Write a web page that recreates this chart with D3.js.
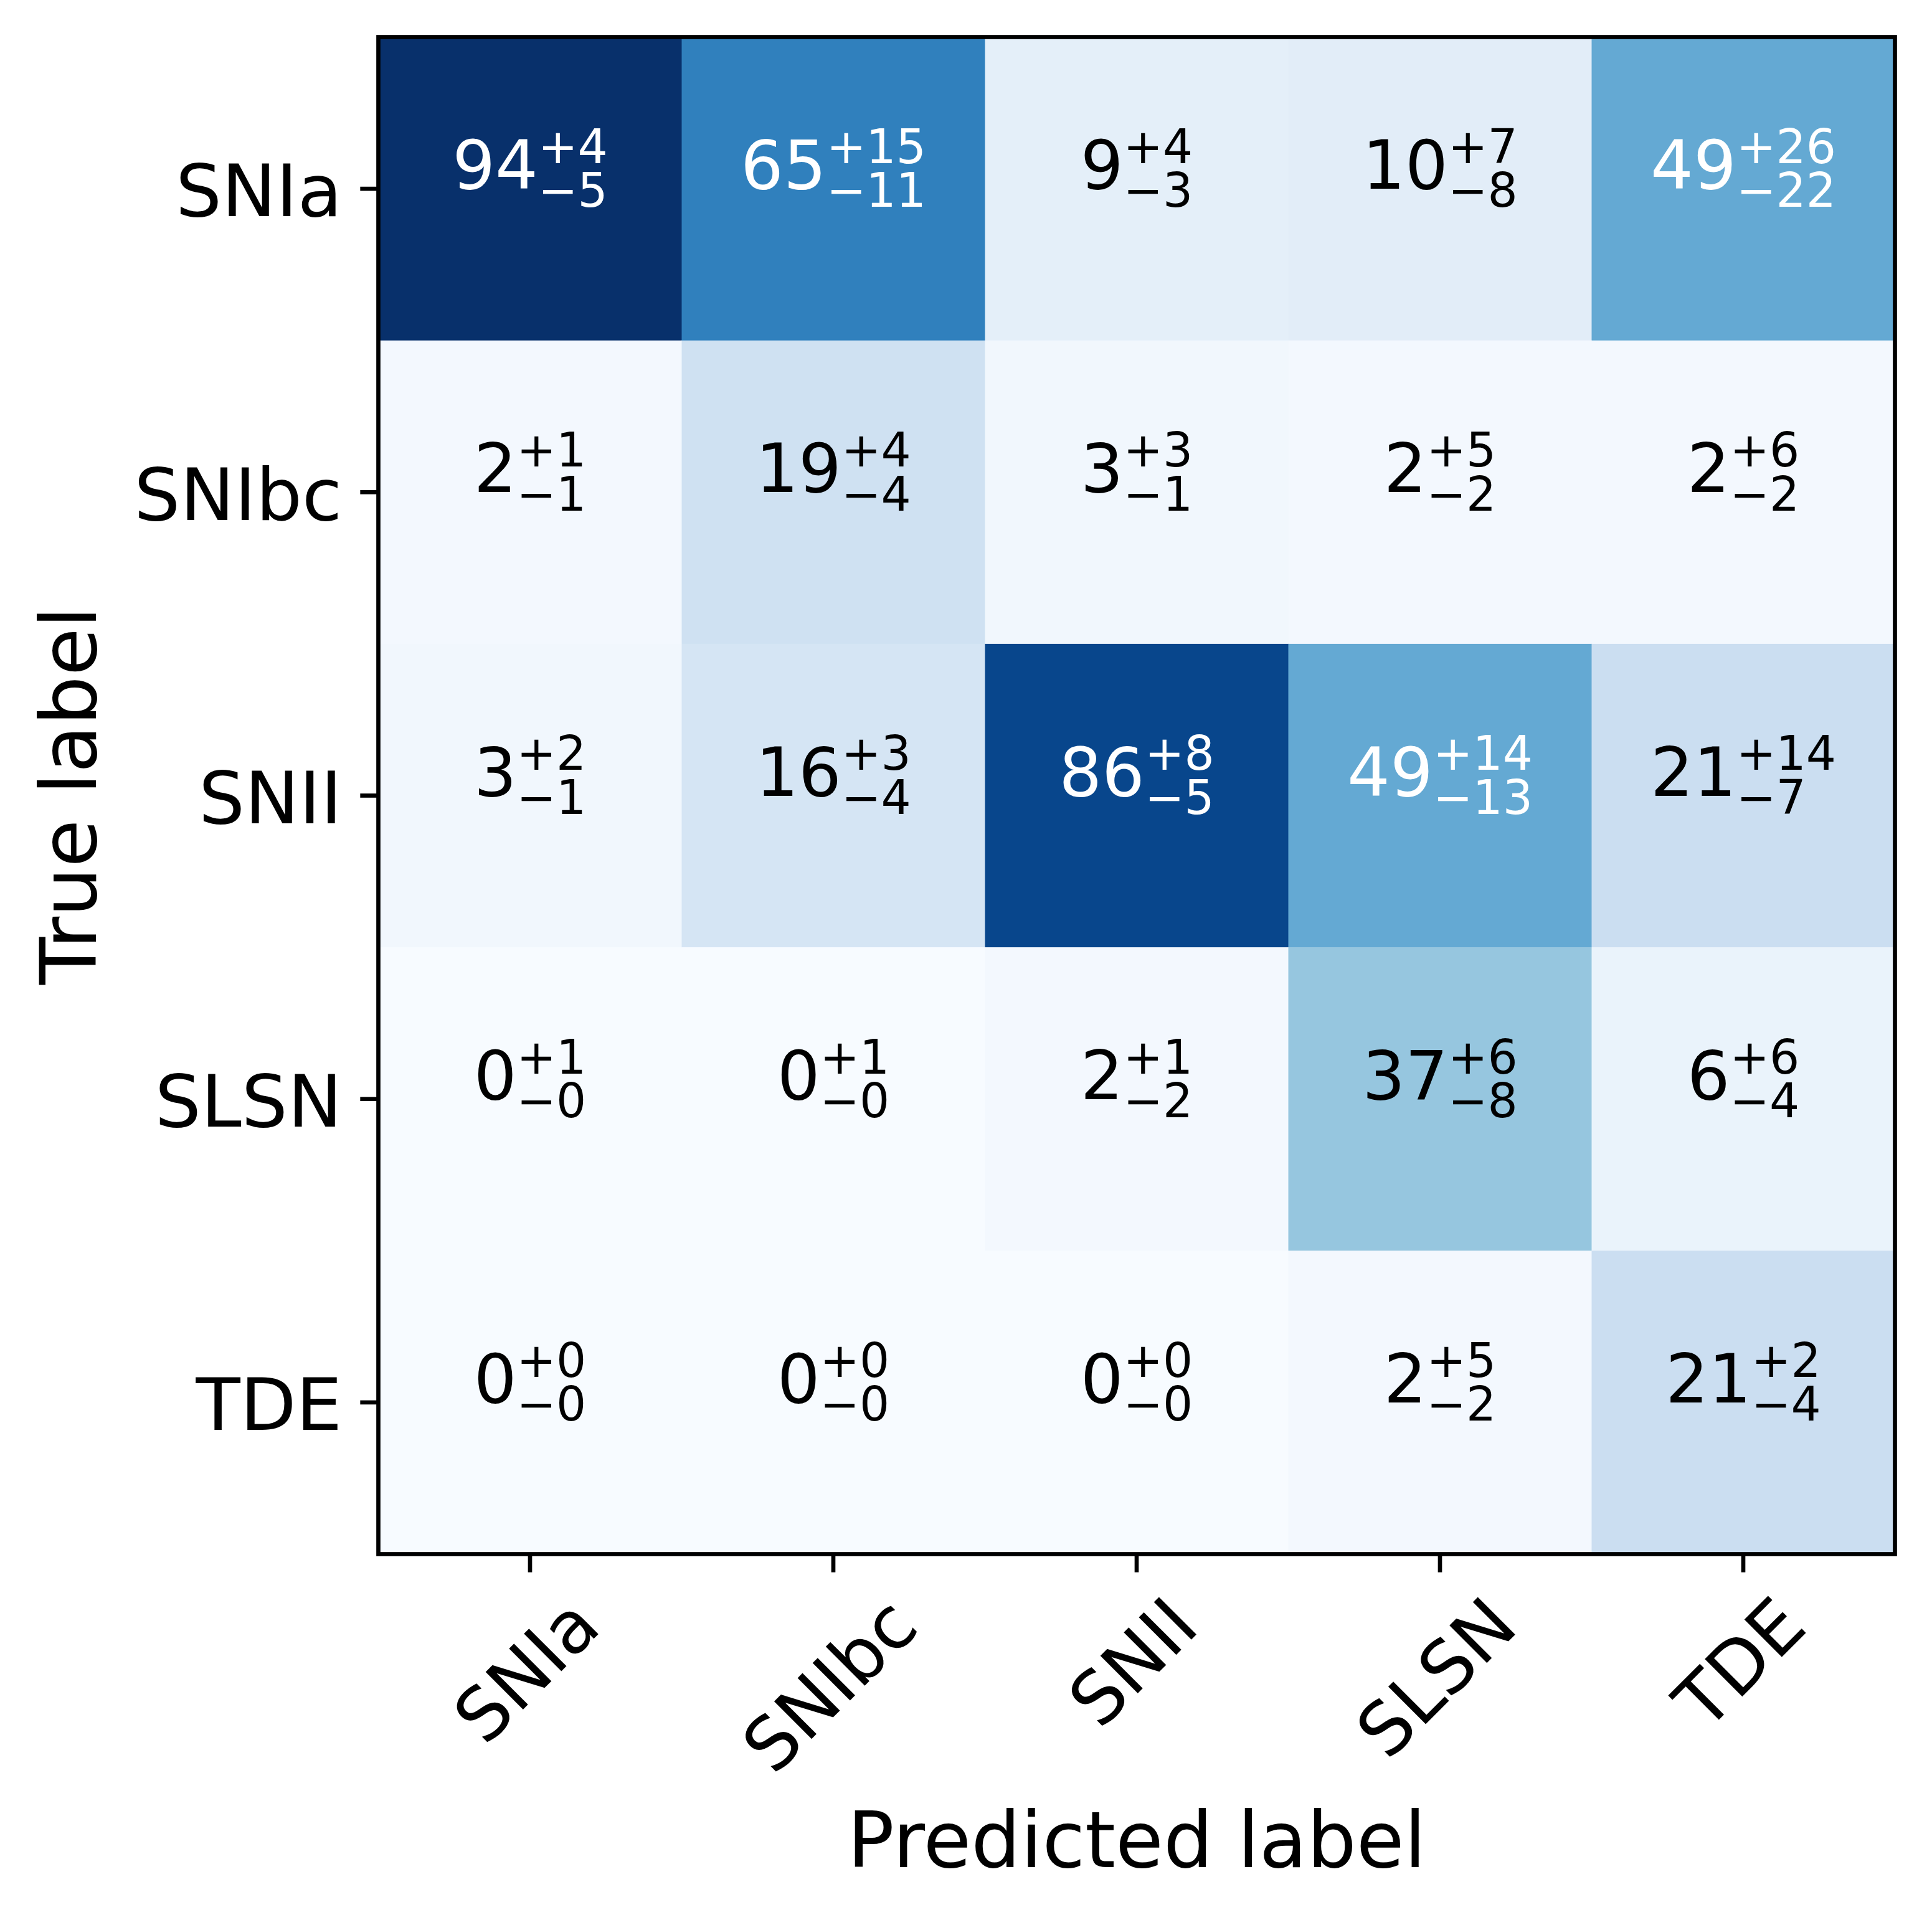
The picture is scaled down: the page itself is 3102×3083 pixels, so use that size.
<!DOCTYPE html>
<html>
<head>
<meta charset="utf-8">
<script src="https://cdn.jsdelivr.net/npm/d3@7"></script>
<style>
  body { margin: 0; background: #fff; }
  text { font-family: "DejaVu Sans", sans-serif; }
</style>
</head>
<body>
<svg id="cm"></svg>
<script>
"use strict";

// class names, same order on both axes
const classes = ["SNIa", "SNIbc", "SNII", "SLSN", "TDE"];

// median percentages, rows = true label, columns = predicted label
const medians = [
	[94, 65,  9, 10, 49],
	[ 2, 19,  3,  2,  2],
	[ 3, 16, 86, 49, 21],
	[ 0,  0,  2, 37,  6],
	[ 0,  0,  0,  2, 21]
];
// upper errors (the +n superscripts)
const upperErr = [
	[4, 15, 4,  7, 26],
	[1,  4, 3,  5,  6],
	[2,  3, 8, 14, 14],
	[1,  1, 1,  6,  6],
	[0,  0, 0,  5,  2]
];
// lower errors (the -n subscripts)
const lowerErr = [
	[5, 11, 3,  8, 22],
	[1,  4, 1,  2,  2],
	[1,  4, 5, 13,  7],
	[0,  0, 2,  8,  4],
	[0,  0, 0,  2,  4]
];

const xTitle = "Predicted label";
const yTitle = "True label";

// matplotlib "Blues" anchor colours
const bluesAnchors = ["#f7fbff", "#deebf7", "#c6dbef", "#9ecae1", "#6baed6",
                      "#4292c6", "#2171b5", "#08519c", "#08306b"];

const width = 3102, height = 3083;
const pt = 600 / 72;               // figure was saved at 600 dpi
const plot = {left: 607.5, top: 59.5, right: 3042.5, bottom: 2495.5};
const tickLen = 3.5 * pt, tickPad = 3.5 * pt, lineW = 0.8 * pt;
const tickFont = 14 * pt, labelFont = 15 * pt, annFont = 13 * pt;

const svg = d3.select("#cm")
	.attr("width", width)
	.attr("height", height)
	.attr("viewBox", `0 0 ${width} ${height}`);

svg.append("rect")
	.attr("width", width)
	.attr("height", height)
	.attr("fill", "#fff");

const x = d3.scaleBand()
	.domain(classes)
	.range([plot.left, plot.right]);
const y = d3.scaleBand()
	.domain(classes)
	.range([plot.top, plot.bottom]);

const vmax = d3.max(medians.flat());
const color = d3.scaleLinear()
	.domain(bluesAnchors.map((c, i) => i / (bluesAnchors.length - 1) * vmax))
	.range(bluesAnchors)
	.clamp(true);
const thresh = vmax / 2;

// flatten the matrix into cells
let cells = [];
classes.forEach((truth, i) => {
	classes.forEach((pred, j) => {
		cells.push({truth: truth, pred: pred, v: medians[i][j],
		            hi: upperErr[i][j], lo: lowerErr[i][j]});
	});
});

svg.append("g")
	.classed("cells", true)
	.selectAll("rect")
	.data(cells)
	.enter()
	.append("rect")
	.attr("x", d => x(d.pred))
	.attr("y", d => y(d.truth))
	.attr("width", x.bandwidth() + 0.5)
	.attr("height", y.bandwidth() + 0.5)
	.attr("fill", d => color(d.v));

// annotations: value with +upper / -lower stacked to its right
const ann = svg.append("g").classed("annotations", true);
cells.forEach(d => {
	let g = ann.append("g");
	let fill = d.v > thresh ? "#ffffff" : "#000000";
	let cx = x(d.pred) + x.bandwidth() / 2;
	let cy = y(d.truth) + y.bandwidth() / 2;
	let main = g.append("text")
		.attr("font-size", annFont)
		.attr("fill", fill)
		.text(d.v);
	let sup = g.append("text")
		.attr("font-size", annFont * 0.7)
		.attr("fill", fill)
		.text("+" + d.hi);
	let sub = g.append("text")
		.attr("font-size", annFont * 0.7)
		.attr("fill", fill)
		.text("\u2212" + d.lo);
	let mw = main.node().getComputedTextLength();
	let sw = Math.max(sup.node().getComputedTextLength(), sub.node().getComputedTextLength());
	let x0 = cx - (mw + sw) / 2;
	main.attr("x", x0).attr("y", cy);
	sup.attr("x", x0 + mw).attr("y", cy - 0.38 * annFont);
	sub.attr("x", x0 + mw).attr("y", cy + 0.27 * annFont);
});

// axes
const xAxis = d3.axisBottom(x).tickSize(tickLen).tickPadding(tickPad);
const yAxis = d3.axisLeft(y).tickSize(tickLen).tickPadding(tickPad);

const gx = svg.append("g")
	.attr("transform", `translate(0, ${plot.bottom})`)
	.call(xAxis);
const gy = svg.append("g")
	.attr("transform", `translate(${plot.left}, 0)`)
	.call(yAxis);

[gx, gy].forEach(g => {
	g.select(".domain").remove();
	g.selectAll(".tick line")
		.attr("stroke", "#000")
		.attr("stroke-width", lineW);
	g.selectAll(".tick text")
		.attr("fill", "#000")
		.attr("font-family", "DejaVu Sans")
		.attr("font-size", tickFont);
});

gy.selectAll(".tick text").attr("dy", "0.38em");

// rotate x tick labels 45deg, centred under the tick like matplotlib
gx.selectAll(".tick text").each(function() {
	let t = d3.select(this);
	let w = this.getComputedTextLength();
	let h = 0.968 * tickFont;
	let half = (w + h) / (2 * Math.SQRT2);
	t.attr("x", null)
	 .attr("y", null)
	 .attr("dy", "0.276em")
	 .attr("text-anchor", "middle")
	 .attr("transform", `translate(0, ${tickLen + tickPad + half}) rotate(-45)`);
});

// frame
svg.append("rect")
	.attr("x", plot.left)
	.attr("y", plot.top)
	.attr("width", plot.right - plot.left)
	.attr("height", plot.bottom - plot.top)
	.attr("fill", "none")
	.attr("stroke", "#000")
	.attr("stroke-width", lineW);

// axis titles
svg.append("text")
	.attr("x", (plot.left + plot.right) / 2)
	.attr("y", 2998)
	.attr("text-anchor", "middle")
	.attr("font-size", labelFont)
	.attr("fill", "#000")
	.text(xTitle);

svg.append("text")
	.attr("transform", `translate(154, ${(plot.top + plot.bottom) / 2}) rotate(-90)`)
	.attr("text-anchor", "middle")
	.attr("font-size", labelFont)
	.attr("fill", "#000")
	.text(yTitle);
</script>
</body>
</html>
